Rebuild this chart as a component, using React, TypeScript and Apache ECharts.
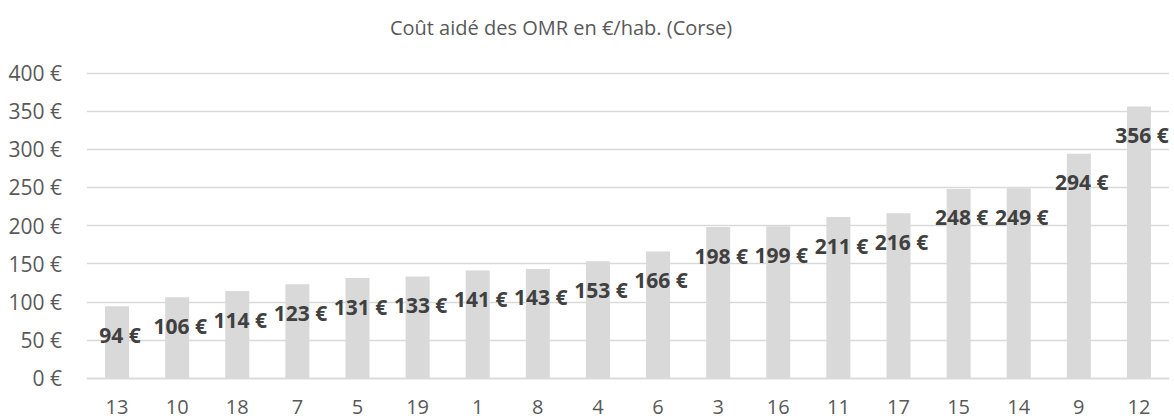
import React, { useEffect, useRef } from "react";
import * as echarts from "echarts";

const title = "Coût aidé des OMR en €/hab. (Corse)";
const categories = ["13", "10", "18", "7", "5", "19", "1", "8", "4", "6", "3", "16", "11", "17", "15", "14", "9", "12"];
const values = [94, 106, 114, 123, 131, 133, 141, 143, 153, 166, 198, 199, 211, 216, 248, 249, 294, 356];
const yTicks = { min: 0, max: 400, interval: 50 };

export default function App() {
  const ref = useRef<HTMLDivElement>(null);
  useEffect(() => {
    document.body.style.margin = "0";
    const chart = echarts.init(ref.current!, undefined, { renderer: "svg" });
    const font = "'Open Sans', sans-serif";
    chart.setOption({
      animation: false,
      backgroundColor: "#ffffff",
      title: {
        text: title,
        left: 556,
        top: 12,
        textAlign: "center",
        textStyle: { fontFamily: font, fontSize: 20, fontWeight: "normal", color: "#595959" },
      },
      grid: { left: 87, right: 5, top: 73, bottom: 41, containLabel: false },
      xAxis: {
        type: "category",
        data: categories,
        axisLine: { lineStyle: { color: "#d9d9d9", width: 1.3 } },
        axisTick: { show: false },
        axisLabel: { fontFamily: font, fontSize: 20, color: "#595959", margin: 17, lineHeight: 22 },
      },
      yAxis: {
        type: "value",
        min: yTicks.min,
        max: yTicks.max,
        interval: yTicks.interval,
        axisLine: { show: false },
        axisTick: { show: false },
        splitLine: { lineStyle: { color: "#d9d9d9", width: 1.3 } },
        axisLabel: {
          fontFamily: font,
          fontSize: 21,
          color: "#595959",
          margin: 25,
          formatter: (v: number) => `${v} €`,
        },
      },
      series: [
        {
          type: "bar",
          data: values,
          barWidth: 24,
          itemStyle: { color: "#d9d9d9" },
          label: {
            show: true,
            position: "insideTop",
            distance: 18,
            offset: [3, 0],
            fontFamily: font,
            fontSize: 21,
            fontWeight: "bold",
            color: "#404040",
            formatter: (p: any) => `${p.value} €`,
          },
        },
      ],
    });
    return () => chart.dispose();
  }, []);
  return <div ref={ref} style={{ width: 1174, height: 419 }} />;
}
